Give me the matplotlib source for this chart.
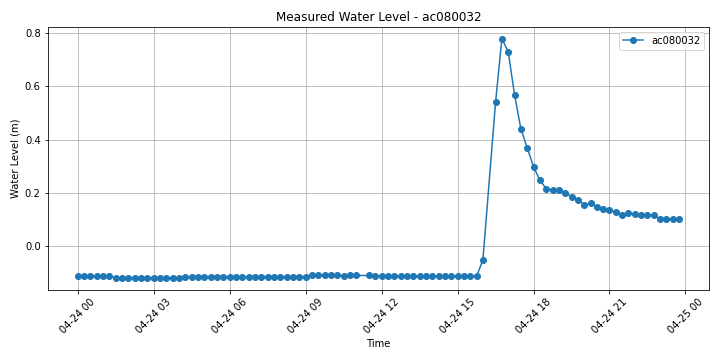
import matplotlib
matplotlib.use("Agg")
import matplotlib.pyplot as plt
import matplotlib.dates as mdates
import pandas as pd
import numpy as np

# -------------------------------
# data (15 min interval, 11:15 and 16:15 missing)
# -------------------------------
station = "ac080032"
start = "2024-04-24 00:00"

baseline = (
    [-0.113] * 6
    + [-0.118] * 11
    + [-0.114] * 9
    + [-0.117]
    + [-0.114] * 10
    + [-0.109, -0.108, -0.108, -0.108, -0.108, -0.111, -0.109, -0.110]
)
# 11:15 missing
after_gap = [-0.110] + [-0.113] * 17 + [-0.052]
# 16:15 missing
event = [0.54, 0.779, 0.730, 0.569, 0.441, 0.370, 0.298, 0.248, 0.216, 0.211,
         0.212, 0.201, 0.186, 0.174, 0.156, 0.162, 0.147, 0.140, 0.137, 0.128,
         0.119, 0.125, 0.121, 0.116, 0.116, 0.116, 0.102, 0.102, 0.103, 0.102]

times = pd.date_range(start, periods=96, freq="15min")
idx = list(range(0, 45)) + list(range(46, 65)) + list(range(66, 96))
levels = baseline + after_gap + event

df = pd.DataFrame({"timestamp": times[idx], "water_level": levels})

# -------------------------------
# plot
# -------------------------------
fig, ax = plt.subplots(figsize=(10, 5), dpi=72)
ax.plot(df["timestamp"].to_numpy(), df["water_level"].to_numpy(), marker="o", label=station)
ax.set_title(f"Measured Water Level - {station}")
ax.set_xlabel("Time")
ax.set_ylabel("Water Level (m)")
ax.xaxis.set_major_locator(mdates.HourLocator(byhour=range(0, 24, 3)))
ax.xaxis.set_major_formatter(mdates.DateFormatter("%m-%d %H"))
plt.setp(ax.get_xticklabels(), rotation=45)
ax.legend()
ax.grid()
fig.tight_layout()
fig.savefig("out.png")
